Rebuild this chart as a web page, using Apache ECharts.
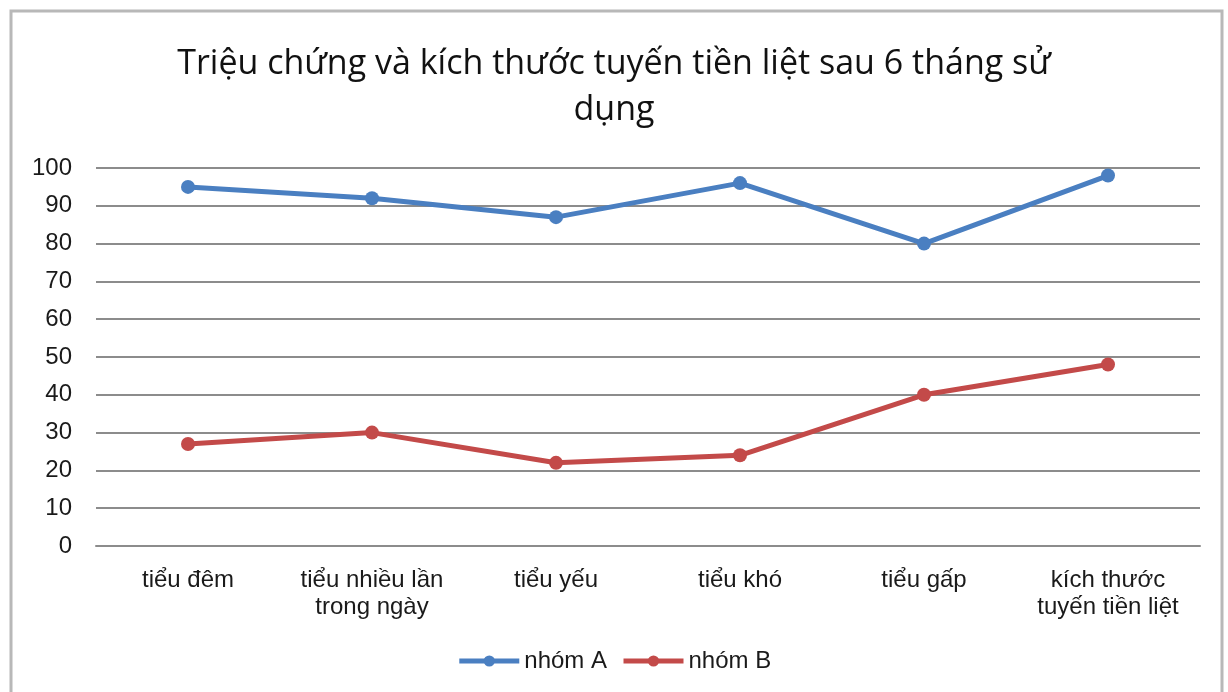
<!DOCTYPE html>
<html>
<head>
<meta charset="utf-8">
<script src="https://cdn.jsdelivr.net/npm/echarts@6/dist/echarts.min.js"></script>
<style>
  html, body { margin: 0; padding: 0; background: #fff; }
  #main { width: 1228px; height: 692px; }
</style>
</head>
<body>
<div id="main"></div>
<script>
var categories = ['tiểu đêm', 'tiểu nhiều lần\ntrong ngày', 'tiểu yếu', 'tiểu khó', 'tiểu gấp', 'kích thước\ntuyến tiền liệt'];
var nhomA = [95, 92, 87, 96, 80, 98];
var nhomB = [27, 30, 22, 24, 40, 48];

var chartDom = document.getElementById('main');
var myChart = echarts.init(chartDom);
var option;

option = {
    backgroundColor: '#fff',
    graphic: [{
        type: 'rect',
        shape: { x: 11, y: 11, width: 1211, height: 700 },
        style: { fill: 'none', stroke: '#b8b8b8', lineWidth: 3 }
    }],
    title: {
        text: 'Triệu chứng và kích thước tuyến tiền liệt sau 6 tháng sử\ndụng',
        left: 'center',
        top: 36,
        textStyle: {
            fontFamily: 'Open Sans',
            fontSize: 34,
            fontWeight: 'normal',
            color: '#111',
            lineHeight: 46
        }
    },
    legend: {
        bottom: 14,
        left: 'center',
        itemWidth: 60,
        itemHeight: 14,
        itemGap: 14,
        lineStyle: { width: 5 },
        textStyle: { fontFamily: 'Liberation Sans', fontSize: 24, color: '#1a1a1a' },
        data: ['nhóm A', 'nhóm B']
    },
    grid: { left: 96, right: 28, top: 168, bottom: 146 },
    xAxis: {
        type: 'category',
        data: categories,
        axisLine: { lineStyle: { color: '#8c8c8c', width: 2 } },
        axisTick: { show: false },
        axisLabel: {
            fontFamily: 'Liberation Sans',
            fontSize: 24,
            color: '#1a1a1a',
            margin: 21,
            lineHeight: 27,
            interval: 0
        }
    },
    yAxis: {
        type: 'value',
        min: 0,
        max: 100,
        interval: 10,
        axisLine: { show: false },
        axisTick: { show: false },
        axisLabel: { fontFamily: 'Liberation Sans', fontSize: 24, color: '#1a1a1a', margin: 24 },
        splitLine: { lineStyle: { color: '#8c8c8c', width: 2 } }
    },
    series: [
        {
            name: 'nhóm A',
            type: 'line',
            data: nhomA,
            symbol: 'circle',
            symbolSize: 14,
            color: '#4a7fc1',
            lineStyle: { width: 5 }
        },
        {
            name: 'nhóm B',
            type: 'line',
            data: nhomB,
            symbol: 'circle',
            symbolSize: 14,
            color: '#c34a49',
            lineStyle: { width: 5 }
        }
    ]
};

option && myChart.setOption(option);
</script>
</body>
</html>
